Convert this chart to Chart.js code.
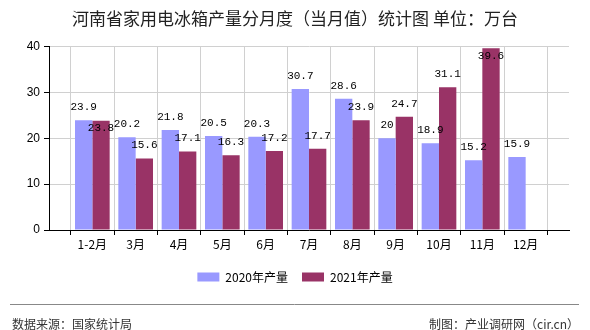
<!DOCTYPE html>
<html>
<head>
<meta charset="utf-8">
<script src="https://cdn.jsdelivr.net/npm/chart.js@4.4.0/dist/chart.umd.min.js"></script>
<style>
  html, body { margin: 0; padding: 0; background: #fff; }
</style>
</head>
<body>
<canvas id="fridge-chart" width="590" height="330"></canvas>
<script>
// 河南省家用电冰箱产量 (当月值, 万台)
const months = ['1-2月', '3月', '4月', '5月', '6月', '7月', '8月', '9月', '10月', '11月', '12月'];
const output2020 = [23.9, 20.2, 21.8, 20.5, 20.3, 30.7, 28.6, 20, 18.9, 15.2, 15.9];
const output2021 = [23.8, 15.6, 17.1, 16.3, 17.2, 17.7, 23.9, 24.7, 31.1, 39.6, null];
const yTicks = [0, 10, 20, 30, 40];

// the x axis leaves one empty slot on each side
const pad = arr => [null].concat(arr, [null]);

const cjk = '"Noto Sans CJK SC", "Noto Sans", sans-serif';

// value labels above the bars
const barLabels = {
    id: 'barLabels',
    afterDatasetsDraw(chart) {
        const ctx = chart.ctx;
        const area = chart.chartArea;
        ctx.save();
        ctx.font = '11px "Liberation Mono", "DejaVu Sans Mono", monospace';
        ctx.fillStyle = '#000';
        ctx.textAlign = 'center';
        ctx.textBaseline = 'middle';
        const placed = [];
        chart.data.datasets.forEach((ds, di) => {
            const meta = chart.getDatasetMeta(di);
            meta.data.forEach((bar, i) => {
                const v = ds.data[i];
                if (v === null || v === undefined) return;
                const text = String(v);
                const w = ctx.measureText(text).width;
                let y = bar.y - 13;
                if (y - 6 < area.top) y = bar.y + 8;
                placed.forEach(p => {
                    if (p.i === i && Math.abs(p.y - y) < 12 && Math.abs(p.x - bar.x) < (p.w + w) / 2) {
                        y = p.y + 21;
                    }
                });
                placed.push({ i: i, x: bar.x, y: y, w: w });
                ctx.fillText(text, bar.x, y);
            });
        });
        ctx.restore();
    }
};

// source line at the bottom
const footer = {
    id: 'footer',
    afterDraw(chart) {
        const ctx = chart.ctx;
        ctx.save();
        ctx.strokeStyle = '#888';
        ctx.lineWidth = 1;
        ctx.beginPath();
        ctx.moveTo(10, 304.5);
        ctx.lineTo(579, 304.5);
        ctx.stroke();
        ctx.font = '12px ' + cjk;
        ctx.fillStyle = '#333';
        ctx.textBaseline = 'middle';
        ctx.textAlign = 'left';
        ctx.fillText('数据来源：国家统计局', 12, 324);
        ctx.textAlign = 'right';
        ctx.fillText('制图：产业调研网（cir.cn）', 579, 324);
        ctx.restore();
    }
};

const dataForFridge = {
    labels: pad(months).map(m => m || ''),
    datasets: [
        {
            label: '2020年产量',
            data: pad(output2020),
            backgroundColor: '#9999ff'
        },
        {
            label: '2021年产量',
            data: pad(output2021),
            backgroundColor: '#993366'
        }
    ]
};

const configForFridge = {
    type: 'bar',
    data: dataForFridge,
    options: {
        responsive: false,
        animation: false,
        categoryPercentage: 0.8,
        barPercentage: 1.0,
        layout: {
            padding: { top: 0, left: 0, right: 0, bottom: 37 }
        },
        plugins: {
            title: {
                display: true,
                text: '河南省家用电冰箱产量分月度（当月值）统计图 单位：万台',
                color: '#222',
                font: { family: cjk, size: 17, weight: 'normal' },
                padding: { top: 8, bottom: 18 }
            },
            legend: {
                display: true,
                position: 'bottom',
                labels: {
                    boxWidth: 22,
                    boxHeight: 9,
                    padding: 14,
                    color: '#000',
                    font: { family: cjk, size: 12 }
                }
            },
            tooltip: { enabled: false }
        },
        scales: {
            x: {
                offset: false,
                afterFit: scale => { scale.height = 27; },
                border: { color: '#000', width: 1 },
                grid: {
                    color: '#d0d0d0',
                    tickColor: '#000',
                    tickLength: 5
                },
                ticks: {
                    color: '#000',
                    padding: 2,
                    maxRotation: 0,
                    autoSkip: false,
                    font: { family: cjk, size: 12 }
                }
            },
            y: {
                min: 0,
                max: 40,
                afterFit: scale => { scale.width = 49; },
                afterBuildTicks: scale => { scale.ticks = yTicks.map(v => ({ value: v })); },
                border: { color: '#000', width: 1 },
                grid: {
                    color: '#d0d0d0',
                    tickColor: '#000',
                    tickLength: 5
                },
                ticks: {
                    color: '#000',
                    padding: 4,
                    font: { family: '"Liberation Sans", sans-serif', size: 12 }
                }
            },
            // empty strip on the right so the title stays centred on the page
            spacer: {
                type: 'linear',
                position: 'right',
                afterFit: scale => { scale.width = 21; },
                grid: { display: false },
                border: { display: false },
                ticks: { display: false }
            }
        }
    },
    plugins: [barLabels, footer]
};

const fridgeChart = new Chart(
    document.getElementById('fridge-chart'),
    configForFridge
);
</script>
</body>
</html>
